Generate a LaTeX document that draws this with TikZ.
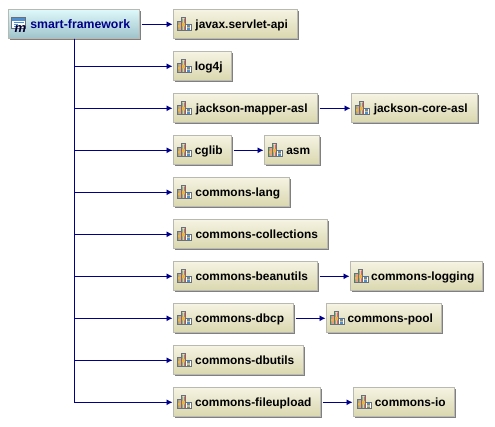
\documentclass[tikz,border=0pt]{standalone}
\usepackage{fontspec}
\setmainfont{Liberation Sans}
\usetikzlibrary{arrows.meta,positioning,shadows}
\definecolor{linkblue}{HTML}{00008B}
\definecolor{rimgray}{HTML}{B9B9B2}
\definecolor{libtop}{HTML}{F5F3E2}
\definecolor{libbottom}{HTML}{D9D7AE}
\definecolor{roottop}{HTML}{DDF8FA}
\definecolor{rootbottom}{HTML}{9EC2CA}
\definecolor{shelfgreen}{HTML}{7DBB78}
\definecolor{shelfred}{HTML}{E0685C}
\definecolor{shelforange}{HTML}{F2B33C}
\definecolor{shelfblue}{HTML}{4F8FD0}
\definecolor{shelfrim}{HTML}{6A707A}
\makeatletter
\tikzset{noindent/.code={\def\tikz@atbegin@node{}}}
\makeatother
\tikzset{
  boxbase/.style={draw=rimgray,line width=1pt,outer sep=0pt,minimum height=29pt,
    text height=8pt,text depth=0pt,inner sep=0pt,font=\fontsize{11.9pt}{14pt}\selectfont\bfseries,
    general shadow={fill=black!50,shadow xshift=1pt,shadow yshift=-1pt},
    execute at begin node={\hspace*{12.5pt}}},
  lib/.style={boxbase,minimum width=#1,top color=libtop,bottom color=libbottom,
    path picture={\pic at ([xshift=3.5pt]path picture bounding box.west) {shelf};}},
  rootbox/.style={boxbase,minimum width=131pt,top color=roottop,bottom color=rootbottom,
    text=linkblue,font=\fontsize{12.3pt}{14pt}\selectfont\bfseries,
    path picture={\pic at ([xshift=3pt]path picture bounding box.west) {module};}},
  under/.style={below=13pt of #1.south west,anchor=north west},
  arrow/.style={-{Latex[length=6pt,width=6pt]},draw=linkblue,line width=0.9pt,shorten >=1pt},
  link/.style={arrow,shorten <=2pt},
  pics/shelf/.style={code={
    \fill[white] (0,-6.5) rectangle (4.2,3) (4.2,-6.5) rectangle (8.8,6.5) (8.8,-6.5) rectangle (14,0);
    \fill[shelfgreen] (0.8,-6) rectangle (2.2,2.5) (5,-6) rectangle (6.2,6);
    \fill[shelfred] (2.4,-6) rectangle (3.6,2.5) (6.6,-6) rectangle (8.1,6);
    \fill[shelforange] (0.8,-3) rectangle (3.6,-0.5) (5,-2) rectangle (8.1,1.5);
    \fill[shelfblue] (9.5,-6) rectangle (13.3,-0.5);
    \fill[shelforange] (9.5,-4.2) rectangle (13.3,-2.8);
    \draw[shelfrim,line width=0.7pt] (0,-6.5) rectangle (4.2,3) (4.2,-6.5) rectangle (8.8,6.5) (8.8,-6.5) rectangle (14,0);
  }},
  pics/module/.style={code={
    \fill[white] (0,-4) rectangle (14,7);
    \fill[shelfblue] (0,3.5) rectangle (14,7);
    \draw[shelfrim,line width=0.7pt] (0,-4) rectangle (14,7);
    \draw[shelfblue,line width=0.7pt] (2,1.5) -- (12,1.5) (2,-0.5) -- (6,-0.5) (2,-2.5) -- (6,-2.5);
    \node[noindent,inner sep=0pt,text=black!80!blue,font=\fontsize{13pt}{13pt}\selectfont\bfseries\itshape] (m) at (9,-4) {m};
  }}
}
\begin{document}
\begin{tikzpicture}[x=1pt,y=1pt]
  \useasboundingbox (0,0) rectangle (495,-427);
  \node[rootbox] (root) at (74,-24.3) {smart-framework};
  \node[lib=124pt,right=34pt of root] (servlet) {javax.servlet-api};
  \node[lib=58pt,under=servlet] (logfj) {log4j};
  \node[lib=144pt,under=logfj] (mapper) {jackson-mapper-asl};
  \node[lib=58pt,under=mapper] (cglib) {cglib};
  \node[lib=116pt,under=cglib] (lang) {commons-lang};
  \node[lib=154pt,under=lang] (collections) {commons-collections};
  \node[lib=144pt,under=collections] (beanutils) {commons-beanutils};
  \node[lib=120pt,under=beanutils] (dbcp) {commons-dbcp};
  \node[lib=130pt,under=dbcp] (dbutils) {commons-dbutils};
  \node[lib=147pt,under=dbutils] (fileupload) {commons-fileupload};
  \node[lib=126pt,right=34pt of mapper] (core) {jackson-core-asl};
  \node[lib=55pt,right=33pt of cglib] (asm) {asm};
  \node[lib=132pt,right=33pt of beanutils] (logging) {commons-logging};
  \node[lib=115pt,right=33pt of dbcp] (pool) {commons-pool};
  \node[lib=101pt,right=33pt of fileupload] (cio) {commons-io};
  \draw[link] (root) -- (servlet);
  \foreach \child in {logfj,mapper,cglib,lang,collections,beanutils,dbcp,dbutils,fileupload}
    \draw[arrow] (root.south) |- (\child);
  \draw[link] (mapper) -- (core);
  \draw[link] (cglib) -- (asm);
  \draw[link] (beanutils) -- (logging);
  \draw[link] (dbcp) -- (pool);
  \draw[link] (fileupload) -- (cio);
\end{tikzpicture}
\end{document}
